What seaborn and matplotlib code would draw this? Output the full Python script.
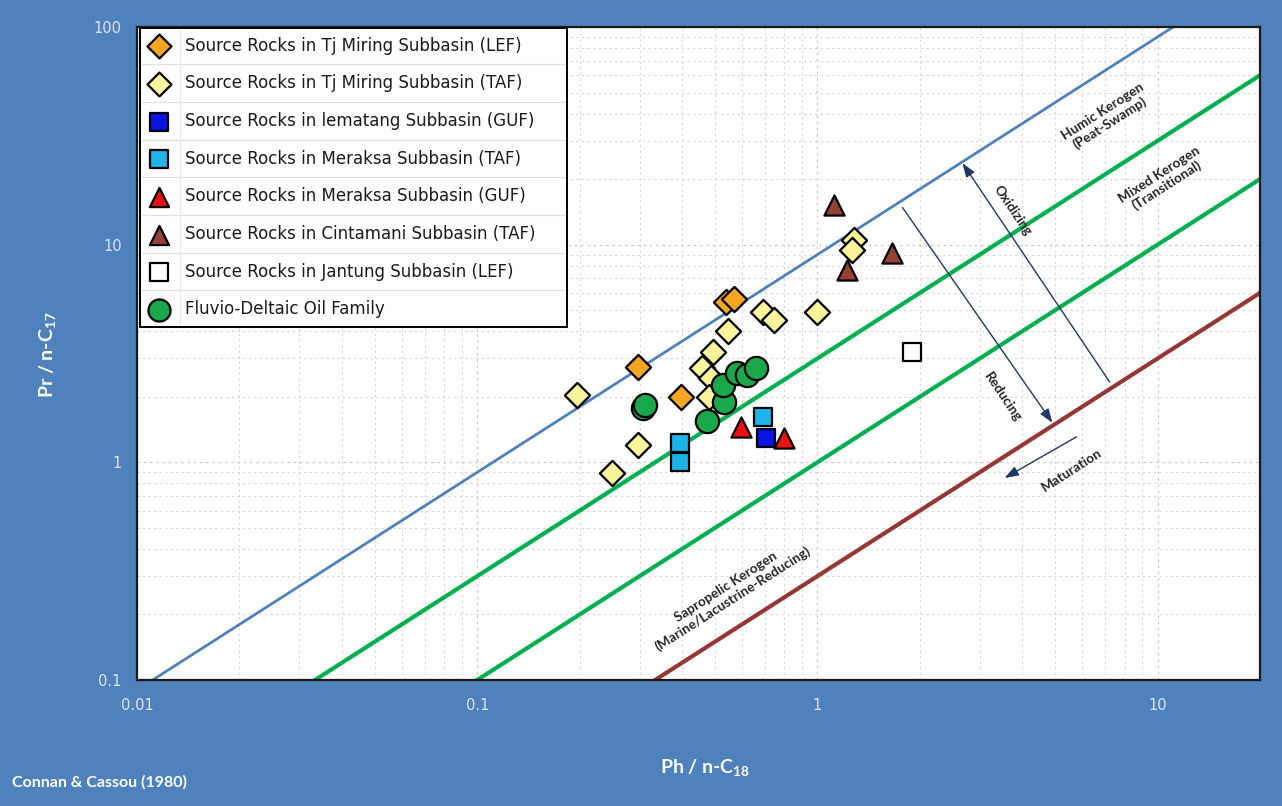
import numpy as np
import matplotlib
matplotlib.use("Agg")
import matplotlib.pyplot as plt
from matplotlib.lines import Line2D
from matplotlib.ticker import LogLocator, FuncFormatter, NullFormatter
import seaborn as sns

# ------------------------------------------------------------------
# Data (Ph/n-C18 vs Pr/n-C17)
# ------------------------------------------------------------------
tjm_lef_x = [0.297, 0.398, 0.540, 0.570]
tjm_lef_y = [2.74, 2.00, 5.45, 5.63]

tjm_taf_x = [0.197, 0.297, 0.249, 0.459, 0.494, 0.488, 0.481, 0.547, 0.693, 0.747, 1.00, 1.28, 1.26]
tjm_taf_y = [2.04, 1.20, 0.89, 2.71, 3.21, 2.44, 2.00, 4.01, 4.91, 4.51, 4.91, 10.5, 9.46]

lem_guf_x = [0.708]
lem_guf_y = [1.29]

mer_taf_x = [0.395, 0.395, 0.693]
mer_taf_y = [1.23, 1.00, 1.62]

mer_guf_x = [0.597, 0.80]
mer_guf_y = [1.45, 1.29]

cin_taf_x = [1.12, 1.22, 1.66]
cin_taf_y = [15.2, 7.65, 9.16]

jan_lef_x = [1.90]
jan_lef_y = [3.21]

oil_x = [0.308, 0.312, 0.474, 0.533, 0.529, 0.582, 0.622, 0.662]
oil_y = [1.78, 1.84, 1.55, 1.89, 2.27, 2.57, 2.52, 2.71]

# kerogen boundary lines: Pr/n-C17 = ratio * Ph/n-C18
boundary_ratio = [9.0, 3.0, 1.0, 0.3]
boundary_color = ["#4f81bd", "#00b050", "#00b050", "#953735"]
boundary_width = [2.0, 3.0, 3.0, 3.0]

x_ticks = [0.01, 0.1, 1, 10]
y_ticks = [0.1, 1, 10, 100]

BG = "#4f81bd"
TICK_COL = "#dce6f2"

sns.set_theme(style="white")
plt.rcParams["font.family"] = ["DejaVu Sans"]
plt.rcParams["mathtext.default"] = "regular"

fig = plt.figure(figsize=(12.82, 8.06), dpi=100, facecolor=BG)
ax = fig.add_axes([0.1069, 0.1563, 0.9828 - 0.1069, 0.9665 - 0.1563])
ax.set_facecolor("white")
ax.set_xscale("log")
ax.set_yscale("log")
ax.set_xlim(0.01, 20)
ax.set_ylim(0.1, 100)

# grid
ax.xaxis.set_major_locator(LogLocator(base=10))
ax.yaxis.set_major_locator(LogLocator(base=10))
ax.xaxis.set_minor_locator(LogLocator(base=10, subs=np.arange(2, 10)))
ax.yaxis.set_minor_locator(LogLocator(base=10, subs=np.arange(2, 10)))
ax.grid(which="major", color="#c9c9c9", lw=0.9, ls=(0, (2, 3)))
ax.grid(which="minor", color="#d6d6d6", lw=0.8, ls=(0, (2, 3)))
ax.set_axisbelow(True)

# boundary lines
line_x = np.array([0.01, 20.0])
for r, c, w in zip(boundary_ratio, boundary_color, boundary_width):
    sns.lineplot(x=line_x, y=r * line_x, ax=ax, color=c, lw=w, zorder=2)

# scatter series
series = [
    (tjm_lef_x, tjm_lef_y, "D", "#f4a620", 165, "Source Rocks in Tj Miring Subbasin (LEF)"),
    (tjm_taf_x, tjm_taf_y, "D", "#faf59a", 165, "Source Rocks in Tj Miring Subbasin (TAF)"),
    (lem_guf_x, lem_guf_y, "s", "#0a14e0", 185, "Source Rocks in lematang Subbasin (GUF)"),
    (mer_taf_x, mer_taf_y, "s", "#1eb4ea", 185, "Source Rocks in Meraksa Subbasin (TAF)"),
    (mer_guf_x, mer_guf_y, "^", "#ee1010", 210, "Source Rocks in Meraksa Subbasin (GUF)"),
    (cin_taf_x, cin_taf_y, "^", "#96403a", 210, "Source Rocks in Cintamani Subbasin (TAF)"),
    (jan_lef_x, jan_lef_y, "s", "white", 185, "Source Rocks in Jantung Subbasin (LEF)"),
    (oil_x, oil_y, "o", "#1aa84c", 280, "Fluvio-Deltaic Oil Family"),
]
for xs, ys, mk, col, size, lab in series:
    sns.scatterplot(x=xs, y=ys, ax=ax, marker=mk, color=col, s=size,
                    edgecolor="black", linewidth=1.6, label=lab, zorder=3)

# ticks
fmt = FuncFormatter(lambda v, p: f"{v:g}")
ax.set_xticks(x_ticks)
ax.set_yticks(y_ticks)
ax.xaxis.set_major_formatter(fmt)
ax.yaxis.set_major_formatter(fmt)
ax.xaxis.set_minor_formatter(NullFormatter())
ax.yaxis.set_minor_formatter(NullFormatter())
ax.tick_params(which="both", length=0, colors=TICK_COL, labelsize=10.5)
ax.tick_params(axis="x", pad=13)
ax.tick_params(axis="y", pad=11)
for s in ax.spines.values():
    s.set_color("#1a1a1a")
    s.set_linewidth(1.6)
ax.set_xlabel("")
ax.set_ylabel("")

# legend (fixed width box like the table in the original)
leg = ax.legend(loc="upper left", bbox_to_anchor=(0.0027, 0.0, 0.380, 0.998), mode="expand",
                borderaxespad=0.0, frameon=True, fancybox=False, edgecolor="black",
                framealpha=1, fontsize=12, labelspacing=1.18, handletextpad=0.9,
                borderpad=0.5, handlelength=1.3, markerscale=0.95)
leg.get_frame().set_linewidth(1.4)
for t in leg.get_texts():
    t.set_color("#1a1a1a")
leg.set_zorder(5)

# annotations
NAVY = "#1f3864"
txt_kw = dict(fontsize=9.8, fontweight="bold", color="#262626", ha="center", va="center",
              rotation_mode="anchor", family=["Lato", "DejaVu Sans"], linespacing=1.1)
ax.text(7.08, 38.6, "Humic Kerogen\n(Peat-Swamp)", rotation=32.6, **txt_kw)
ax.text(10.4, 19.8, "Mixed Kerogen\n(Transitional)", rotation=32.6, **txt_kw)
ax.text(0.551, 0.251, "Sapropelic Kerogen\n(Marine/Lacustrine-Reducing)", rotation=32.6, **txt_kw)
ax.text(5.58, 0.92, "Maturation", rotation=32.6, **txt_kw)
ax.text(3.75, 14.4, "Oxidizing", rotation=-56, **txt_kw)
ax.text(3.5, 2.0, "Reducing", rotation=-56, **txt_kw)

arr = dict(arrowstyle="-|>,head_length=0.7,head_width=0.25", color=NAVY, lw=1.0,
           shrinkA=0, shrinkB=0)
ax.annotate("", xy=(2.67, 23.7), xytext=(7.23, 2.34), arrowprops=arr, zorder=2)
ax.annotate("", xy=(4.91, 1.52), xytext=(1.78, 14.8), arrowprops=arr, zorder=2)
ax.annotate("", xy=(3.55, 0.847), xytext=(5.78, 1.31), arrowprops=arr, zorder=2)

# axis titles and credit
lab_kw = dict(color="white", fontweight="bold", family=["Lato", "DejaVu Sans"])
fig.text(705 / 1282, 1 - 768 / 806, "Ph / n-C$_{18}$", ha="center", va="center", fontsize=14, **lab_kw)
fig.text(48 / 1282, 1 - 355 / 806, "Pr / n-C$_{17}$", ha="center", va="center", rotation=90, fontsize=14, **lab_kw)
fig.text(12 / 1282, 1 - 782 / 806, "Connan & Cassou (1980)", ha="left", va="center", fontsize=11.5, **lab_kw)

# table-like separators in the legend
fig.canvas.draw()
inv = fig.transFigure.inverted()
frame = leg.get_frame().get_window_extent()
texts = [t.get_window_extent() for t in leg.get_texts()]
for a, b in zip(texts[:-1], texts[1:]):
    ym = (a.y0 + b.y1) / 2
    (x0, y0), (x1, y1) = inv.transform([(frame.x0 + 2, ym), (frame.x1 - 2, ym)])
    fig.add_artist(Line2D([x0, x1], [y0, y1], transform=fig.transFigure, color="#e0e0e0", lw=0.9, zorder=6))
xv = texts[0].x0 - 5
(x0, y0), (x1, y1) = inv.transform([(xv, frame.y0 + 2), (xv, frame.y1 - 2)])
fig.add_artist(Line2D([x0, x1], [y0, y1], transform=fig.transFigure, color="#e8e8e8", lw=0.9, zorder=6))

fig.savefig("out.png", dpi=100, facecolor=BG)
